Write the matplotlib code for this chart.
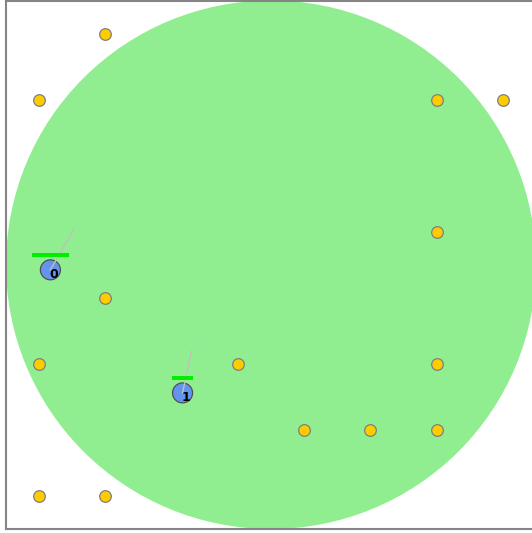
import numpy as np
import matplotlib
matplotlib.use('Agg')
import matplotlib.pyplot as plt
from matplotlib.patches import Circle, Rectangle

# world / arena
world_size = 8
arena_center = (4.0, 4.0)
arena_radius = 4.0

# yellow targets (grid cells)
target_x = [1.5, 0.5, 6.5, 7.5, 6.5, 1.5, 0.5, 3.5, 6.5, 4.5, 5.5, 6.5, 0.5, 1.5]
target_y = [0.5, 1.5, 1.5, 1.5, 3.5, 4.5, 5.5, 5.5, 5.5, 6.5, 6.5, 6.5, 7.5, 7.5]

# agents
agent_ids = ['0', '1']
agent_x = [0.67, 2.665]
agent_y = [4.077, 5.94]
agent_heading = [60, 78]      # degrees, counter-clockwise on screen
heading_len = [0.70, 0.65]
health_len = [0.57, 0.33]

fig = plt.figure(figsize=(5.32, 5.33), dpi=100)
ax = fig.add_axes([6.0 / 532, 4.0 / 533, 530 / 532, 528.5 / 533])
ax.set_xlim(0, world_size)
ax.set_ylim(world_size, 0)
ax.set_xticks([])
ax.set_yticks([])
for s in ax.spines.values():
    s.set_color('#858585')
    s.set_linewidth(1.5)
ax.spines['right'].set_visible(False)

ax.add_patch(Circle(arena_center, arena_radius, facecolor='#90EE90', edgecolor='none', zorder=1))

ax.scatter(target_x, target_y, s=70, facecolor='#FFCC00', edgecolor='#7f7f7f',
           linewidth=0.9, zorder=3)

r = 0.151
for i in range(len(agent_ids)):
    x, y = agent_x[i], agent_y[i]
    ax.add_patch(Circle((x, y), r, facecolor='#6495ED', edgecolor='#505050',
                        linewidth=0.9, zorder=4))
    a = np.deg2rad(agent_heading[i])
    ax.plot([x, x + heading_len[i] * np.cos(a)], [y, y - heading_len[i] * np.sin(a)],
            color='#c0c0c0', linewidth=1.0, zorder=5)
    ax.add_patch(Rectangle((x - health_len[i] / 2, y - 0.26), health_len[i], 0.065,
                           facecolor='#00EE00', edgecolor='none', zorder=5))
    ax.text(x + 0.045, y + 0.07, agent_ids[i], fontsize=9, fontweight='bold',
            color='black', ha='center', va='center', zorder=6)

fig.savefig('out.png', dpi=100)
